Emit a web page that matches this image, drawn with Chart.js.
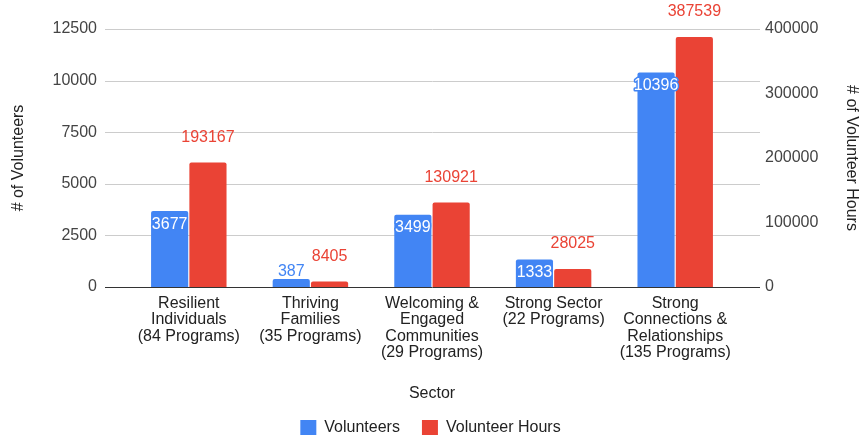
<!DOCTYPE html>
<html>
<head>
<meta charset="utf-8">
<script src="https://cdn.jsdelivr.net/npm/chart.js@4/dist/chart.umd.min.js"></script>
<style>
  html, body { margin: 0; padding: 0; background: #fff; }
  #wrap { width: 861px; height: 435px; }
</style>
</head>
<body>
<div id="wrap"><canvas id="chart" width="861" height="435"></canvas></div>
<script>
const sectors = [
  ['Resilient', 'Individuals', '(84 Programs)'],
  ['Thriving', 'Families', '(35 Programs)'],
  ['Welcoming &', 'Engaged', 'Communities', '(29 Programs)'],
  ['Strong Sector', '(22 Programs)'],
  ['Strong', 'Connections &', 'Relationships', '(135 Programs)']
];
const volunteers = [3677, 387, 3499, 1333, 10396];
const volunteerHours = [193167, 8405, 130921, 28025, 387539];
const leftTicks = [0, 2500, 5000, 7500, 10000, 12500];
const rightTicks = [0, 100000, 200000, 300000, 400000];

const BLUE = '#4285F4';
const RED = '#EA4335';
const FONT = '"Liberation Sans", Arial, sans-serif';

// Google-style gridlines that run a bit past the plot area
const gridPlugin = {
  id: 'grid',
  beforeDatasetsDraw(chart) {
    const { ctx, chartArea } = chart;
    const y = chart.scales.y;
    ctx.save();
    leftTicks.forEach(t => {
      const py = Math.round(y.getPixelForValue(t)) + 0.5;
      ctx.strokeStyle = t === 0 ? '#333' : '#ccc';
      ctx.lineWidth = 1;
      ctx.beginPath();
      ctx.moveTo(chartArea.left - 23, py);
      ctx.lineTo(chartArea.right + 24, py);
      ctx.stroke();
    });
    ctx.restore();
  }
};

// value labels: blue inside the bar when it fits, red above
const labelPlugin = {
  id: 'barLabels',
  afterDatasetsDraw(chart) {
    const { ctx } = chart;
    ctx.save();
    ctx.font = '16px ' + FONT;
    ctx.textAlign = 'center';
    ctx.textBaseline = 'middle';
    ctx.lineJoin = 'round';
    chart.data.datasets.forEach((ds, di) => {
      const meta = chart.getDatasetMeta(di);
      meta.data.forEach((bar, i) => {
        const txt = String(ds.data[i]);
        const h = bar.base - bar.y;
        if (di === 0) {
          if (h > 20) {
            ctx.lineWidth = 3;
            ctx.strokeStyle = BLUE;
            ctx.strokeText(txt, bar.x, bar.y + 13);
            ctx.fillStyle = '#fff';
            ctx.fillText(txt, bar.x, bar.y + 13);
          } else {
            ctx.lineWidth = 3;
            ctx.strokeStyle = '#fff';
            ctx.strokeText(txt, bar.x, bar.y - 7);
            ctx.fillStyle = BLUE;
            ctx.fillText(txt, bar.x, bar.y - 7);
          }
        } else {
          ctx.fillStyle = RED;
          ctx.fillText(txt, bar.x, bar.y - 25);
        }
      });
    });
    ctx.restore();
  }
};

new Chart(document.getElementById('chart'), {
  type: 'bar',
  data: {
    labels: sectors,
    datasets: [
      { label: 'Volunteers', data: volunteers, backgroundColor: BLUE, yAxisID: 'y',
        borderRadius: { topLeft: 2, topRight: 2 }, borderSkipped: 'bottom' },
      { label: 'Volunteer Hours', data: volunteerHours, backgroundColor: RED, yAxisID: 'y1',
        borderRadius: { topLeft: 2, topRight: 2 }, borderSkipped: 'bottom' }
    ]
  },
  options: {
    responsive: false,
    animation: false,
    categoryPercentage: 0.63,
    barPercentage: 0.97,
    layout: { padding: { top: 29, left: 0, right: 0, bottom: -11 } },
    plugins: {
      tooltip: { enabled: false },
      legend: {
        position: 'bottom',
        labels: {
          font: { family: FONT, size: 16 },
          color: '#222',
          boxWidth: 16,
          boxHeight: 16,
          padding: 22
        }
      }
    },
    scales: {
      x: {
        grid: { display: false, drawTicks: false },
        border: { display: false },
        ticks: { font: { family: FONT, size: 16, lineHeight: 1.03 }, color: '#222', padding: 8, maxRotation: 0, autoSkip: false },
        title: { display: true, text: 'Sector', font: { family: FONT, size: 16 }, color: '#222', padding: { top: 0, bottom: -5 } },
        afterFit(s) { s.height = 111; }
      },
      y: {
        position: 'left',
        min: 0, max: 12500,
        afterBuildTicks(s) { s.ticks = leftTicks.map(v => ({ value: v })); },
        grid: { display: false, drawTicks: true, tickLength: 26 },
        border: { display: false },
        ticks: { font: { family: FONT, size: 16 }, color: '#444', padding: 5, callback: v => String(v) },
        title: { display: true, text: '# of Volunteers', font: { family: FONT, size: 16 }, color: '#222', padding: { top: 9, bottom: 0 } },
        afterFit(s) { s.width = 128; }
      },
      y1: {
        position: 'right',
        min: 0, max: 400000,
        afterBuildTicks(s) { s.ticks = rightTicks.map(v => ({ value: v })); },
        grid: { display: false, drawTicks: true, tickLength: 24 },
        border: { display: false },
        ticks: { font: { family: FONT, size: 16 }, color: '#444', padding: 5, callback: v => String(v) },
        title: { display: true, text: '# of Volunteer Hours', font: { family: FONT, size: 16 }, color: '#222', padding: { top: 0, bottom: 0 } },
        afterFit(s) { s.width = 125; }
      }
    }
  },
  plugins: [gridPlugin, labelPlugin]
});
</script>
</body>
</html>
